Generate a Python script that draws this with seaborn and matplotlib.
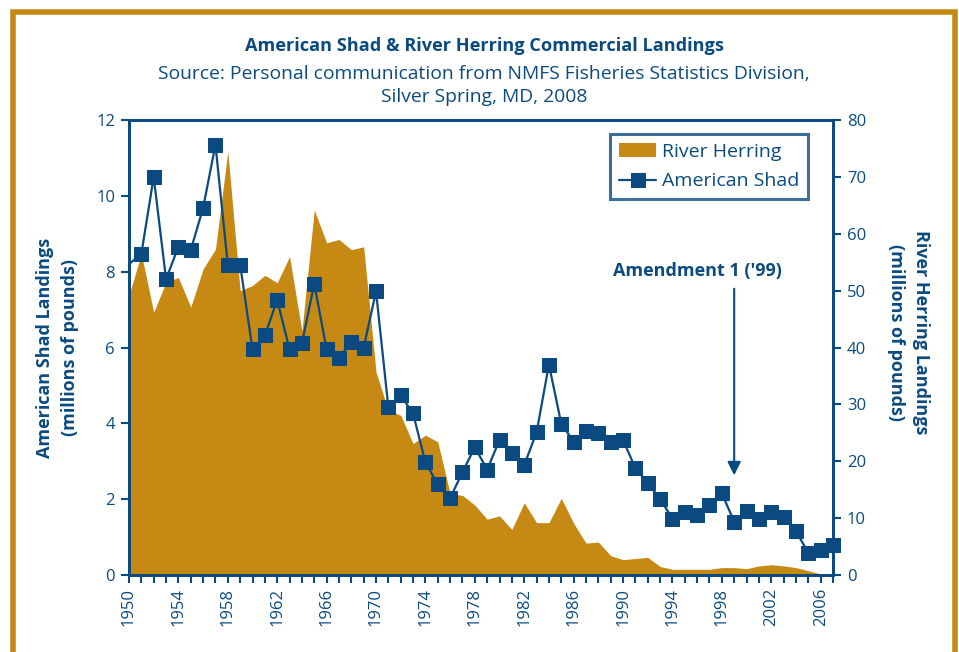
import numpy as np
import pandas as pd
import matplotlib
matplotlib.use('Agg')
import matplotlib.pyplot as plt
from matplotlib.patches import Rectangle
import seaborn as sns

# data
years = list(range(1950, 2008))
shad = [8.2, 8.47, 10.5, 7.8, 8.66, 8.57, 9.68, 11.35, 8.18, 8.18,
        5.95, 6.32, 7.25, 5.95, 6.11, 7.68, 5.95, 5.72, 6.15, 6.0,
        7.48, 4.42, 4.74, 4.26, 2.97, 2.39, 2.03, 2.71, 3.37, 2.78,
        3.56, 3.23, 2.90, 3.76, 5.55, 3.99, 3.52, 3.80, 3.75, 3.52,
        3.56, 2.82, 2.42, 2.0, 1.49, 1.65, 1.57, 1.85, 2.15, 1.41,
        1.68, 1.49, 1.65, 1.53, 1.15, 0.59, 0.67, 0.79]
herring = [49.2, 56.5, 46.2, 51.5, 52.3, 47.1, 53.8, 57.3, 74.5, 50.0,
           50.9, 52.7, 51.4, 56.0, 42.9, 64.2, 58.4, 59.0, 57.2, 57.7,
           35.7, 28.9, 28.1, 23.1, 24.6, 23.4, 14.3, 14.0, 12.3, 9.8,
           10.4, 8.0, 12.7, 9.2, 9.2, 13.5, 9.1, 5.6, 5.8, 3.4,
           2.7, 2.9, 3.1, 1.5, 1.0, 1.0, 1.0, 1.0, 1.3, 1.3,
           1.1, 1.6, 1.8, 1.6, 1.3, 0.75, 0.2, 0.0]
xtick_years = list(range(1950, 2007, 4))

df = pd.DataFrame({'year': years, 'shad': shad, 'herring': herring})

navy = '#0B4A80'
gold = '#C68A14'

sns.set_theme(style='white')
plt.rcParams['font.family'] = ['Open Sans', 'DejaVu Sans']

fig = plt.figure(figsize=(9.59, 6.52), dpi=100)
ax = fig.add_axes([129 / 959, 1 - 575 / 652, (833 - 129) / 959, (575 - 120) / 652])
ax2 = ax.twinx()

# 面グラフは右軸、折れ線は左軸（前面に描く）
ax2.fill_between(df['year'], df['herring'], 0, color=gold, lw=0, label='River Herring')
ax.set_zorder(ax2.get_zorder() + 1)
ax.patch.set_visible(False)

sns.lineplot(data=df, x='year', y='shad', ax=ax, color=navy, lw=1.6,
             marker='s', markersize=10, markeredgecolor=navy,
             markevery=list(range(1, len(years))), label='American Shad',
             legend=False, clip_on=False)

ax.set_xlim(1950, 2007)
ax.set_ylim(0, 12)
ax2.set_ylim(0, 80)
ax.set_yticks(range(0, 13, 2))
ax2.set_yticks(range(0, 81, 10))
ax.set_xticks(xtick_years)
ax.set_xticks(years, minor=True)
ax.set_xticklabels([str(y) for y in xtick_years], rotation=90)

for a in (ax, ax2):
    for s in a.spines.values():
        s.set_color(navy)
        s.set_linewidth(2)
    a.tick_params(colors=navy, labelcolor=navy, labelsize=12, width=1.5, length=6,
                  direction='out')
    a.tick_params(which='minor', colors=navy, width=1.5, length=6, direction='out')
ax.tick_params(axis='x', which='both', bottom=True, pad=3)
ax.tick_params(axis='y', left=True, pad=4)
ax2.tick_params(axis='y', right=True, pad=4)
ax.set_xlabel('')
ax.set_ylabel('American Shad Landings\n(millions of pounds)', color=navy,
              fontsize=13, fontweight='bold', linespacing=1.45)
ax2.set_ylabel('River Herring Landings\n(millions of pounds)', color=navy,
               fontsize=13, fontweight='bold', rotation=270, linespacing=1.45)
ax.yaxis.label.set_va('center')
ax2.yaxis.label.set_va('center')
ax.yaxis.set_label_coords((57.5 - 129) / 704, 0.50)
ax2.yaxis.set_label_coords((908.5 - 129) / 704, 0.534)

# 凡例
h1, l1 = ax2.get_legend_handles_labels()
h2, l2 = ax.get_legend_handles_labels()
leg = ax.legend(h1 + h2, l1 + l2, loc='upper right',
                bbox_to_anchor=((808 - 129) / 704, (575 - 134) / 455),
                borderaxespad=0, fontsize=14, frameon=True, fancybox=False,
                handlelength=1.9, handletextpad=0.3, borderpad=0.45,
                labelspacing=0.6)
leg.get_frame().set_edgecolor(navy)
leg.get_frame().set_linewidth(2.2)
for t in leg.get_texts():
    t.set_color(navy)

# 注記と矢印
ax.text(1996.05, 8.03, "Amendment 1 ('99)", ha='center', va='center',
        color=navy, fontsize=13, fontweight='bold')
ax.annotate('', xy=(1999, 2.63), xytext=(1999, 7.55),
            arrowprops=dict(arrowstyle='-|>', color=navy, lw=1.5,
                            mutation_scale=20, shrinkA=0, shrinkB=0))

# タイトル
fig.text(0.505, 0.929, 'American Shad & River Herring Commercial Landings',
         ha='center', va='center', color=navy, fontsize=13.1, fontweight='bold')
fig.text(0.505, 0.887, 'Source: Personal communication from NMFS Fisheries Statistics Division,',
         ha='center', va='center', color=navy, fontsize=13.9)
fig.text(0.505, 0.851, 'Silver Spring, MD, 2008',
         ha='center', va='center', color=navy, fontsize=13.9)

# 外枠
fig.patches.append(Rectangle((12.5 / 959, -0.05), (954.5 - 12.5) / 959, 1.05 - 12 / 652,
                             transform=fig.transFigure, fill=False,
                             edgecolor=gold, lw=4, zorder=0))

fig.savefig('out.png', dpi=100)
